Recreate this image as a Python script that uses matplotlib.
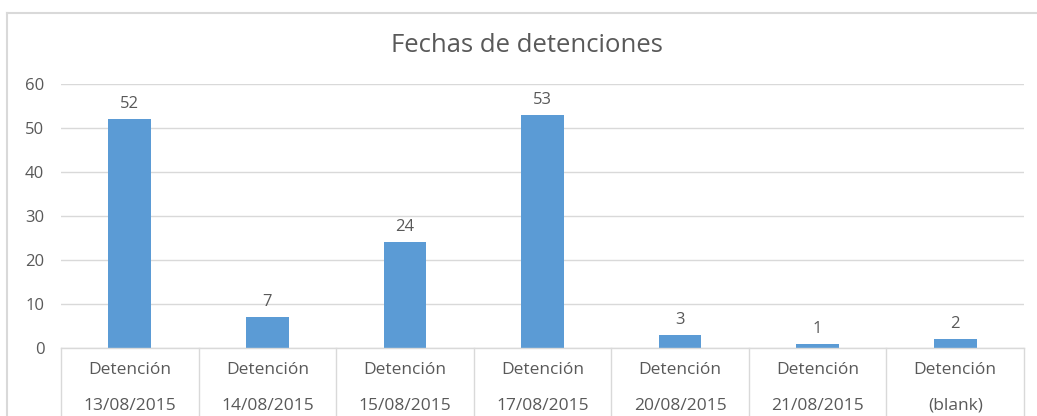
"""Fechas de detenciones - Excel style column chart."""

import matplotlib
matplotlib.use("Agg")
import matplotlib.pyplot as plt
from matplotlib.lines import Line2D

# Data
CATEGORY_TOP = ["Detención"] * 7
CATEGORY_BOTTOM = ["13/08/2015", "14/08/2015", "15/08/2015", "17/08/2015",
                   "20/08/2015", "21/08/2015", "(blank)"]
COUNTS = [52, 7, 24, 53, 3, 1, 2]
Y_TICKS = [0, 10, 20, 30, 40, 50, 60]

BAR_COLOR = "#5B9BD5"
TEXT_COLOR = "#595959"
GRID_COLOR = "#D9D9D9"

plt.rcParams["font.family"] = ["Open Sans", "DejaVu Sans"]

W, H = 1037, 416
fig = plt.figure(figsize=(W / 100, H / 100), dpi=100)
ax = fig.add_axes([61 / W, 1 - 348 / H, (1024 - 61) / W, (348 - 84) / H])

x = list(range(len(COUNTS)))
bars = ax.bar(x, COUNTS, width=0.31, color=BAR_COLOR, zorder=3)
ax.bar_label(bars, padding=5, fontsize=12, color=TEXT_COLOR)

ax.set_xlim(-0.5, len(COUNTS) - 0.5)
ax.set_ylim(0, 60)
ax.set_yticks(Y_TICKS)
ax.tick_params(axis="y", length=0, pad=12, labelsize=12, labelcolor=TEXT_COLOR)
ax.set_xticks([])
ax.grid(axis="y", color=GRID_COLOR, linewidth=1, zorder=0)
for s in ax.spines.values():
    s.set_visible(False)

# multi-level category axis: baseline + separators + two-line labels
trans = ax.get_xaxis_transform()
ax.plot([-0.5, len(COUNTS) - 0.5], [0, 0], transform=trans, color=GRID_COLOR,
        lw=1, clip_on=False, zorder=4)
for b in range(len(COUNTS) + 1):
    ax.plot([b - 0.5, b - 0.5], [0, -0.5], transform=trans, color=GRID_COLOR,
            lw=1, clip_on=False)
for i in x:
    ax.text(i, -0.085, CATEGORY_TOP[i], transform=trans, ha="center", va="center",
            fontsize=12.5, color=TEXT_COLOR)
    ax.text(i, -0.218, CATEGORY_BOTTOM[i], transform=trans, ha="center", va="center",
            fontsize=12.5, color=TEXT_COLOR)

# title
fig.text(527 / W, 1 - 45 / H, "Fechas de detenciones", ha="center", va="center",
         fontsize=18.5, color=TEXT_COLOR)

# chart outer border (cropped on right/bottom)
fig.add_artist(Line2D([7 / W, 7 / W], [1 - 13 / H, 0], transform=fig.transFigure,
                      color=GRID_COLOR, lw=1.5))
fig.add_artist(Line2D([7 / W, 1], [1 - 13 / H, 1 - 13 / H], transform=fig.transFigure,
                      color=GRID_COLOR, lw=1.5))

fig.savefig("out.png", dpi=100)
